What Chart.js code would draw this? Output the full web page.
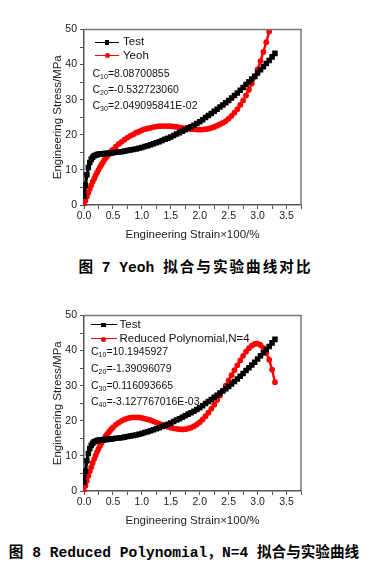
<!DOCTYPE html>
<html>
<head>
<meta charset="utf-8">
<script src="https://cdn.jsdelivr.net/npm/chart.js@4.4.1/dist/chart.umd.min.js"></script>
<style>
  html, body { margin: 0; padding: 0; background: #fff; }
  #page { position: relative; width: 369px; height: 576px; overflow: hidden;
          font-family: "Liberation Sans", Arial, sans-serif; color: #111; }
  .box { position: absolute; left: 0; width: 369px; height: 250px; }
  .lbl { position: absolute; white-space: nowrap; line-height: 1; transform: translateY(-50%); }
  .leg { font-size: 11.5px; }
  .coef { font-size: 10.5px; }
  .coef sub { font-size: 7px; vertical-align: -2px; line-height: 0; }
  .line { position: absolute; height: 0; border-top: 1.5px solid; }
  .sq { position: absolute; width: 4.5px; height: 4.5px; background: #000; }
  .dot { position: absolute; width: 5px; height: 5px; border-radius: 50%; background: #f00; }
  .cap { position: absolute; left: 0; text-align: center; font-weight: bold; font-size: 14.6px;
         font-family: "Liberation Mono", "Noto Sans CJK SC", monospace; line-height: 1;
         transform: translateY(-50%); color: #000; white-space: nowrap; }
</style>
</head>
<body>
<div id="page">
  <div class="box" style="top:0"><canvas id="c1" width="369" height="250"></canvas></div>
  <div class="box" style="top:286px"><canvas id="c2" width="369" height="250"></canvas></div>

  <!-- chart 1 legend + coefficients -->
  <div class="line" style="left:95px;width:24px;top:41.5px;border-color:#000"></div>
  <div class="sq" style="left:104.8px;top:40px"></div>
  <div class="lbl leg" style="left:123px;top:42.3px">Test</div>
  <div class="line" style="left:95px;width:24px;top:55px;border-color:#f00"></div>
  <div class="dot" style="left:104.5px;top:53.2px"></div>
  <div class="lbl leg" style="left:123px;top:55.7px">Yeoh</div>
  <div class="lbl coef" style="left:92.5px;top:73px">C<sub>10</sub>=8.08700855</div>
  <div class="lbl coef" style="left:92.5px;top:89px">C<sub>20</sub>=-0.532723060</div>
  <div class="lbl coef" style="left:92.5px;top:104.5px">C<sub>30</sub>=2.049095841E-02</div>
  <div class="cap" style="top:268.3px;width:391px">图 7 Yeoh <span style="letter-spacing:2px">拟合与实验曲线对比</span></div>

  <!-- chart 2 legend + coefficients -->
  <div class="line" style="left:90.5px;width:26px;top:324.3px;border-color:#000"></div>
  <div class="sq" style="left:101.3px;top:322.8px"></div>
  <div class="lbl leg" style="left:119.5px;top:325px">Test</div>
  <div class="line" style="left:90.5px;width:26px;top:338.3px;border-color:#f00"></div>
  <div class="dot" style="left:101px;top:336.5px"></div>
  <div class="lbl leg" style="left:119.5px;top:339px">Reduced Polynomial,N=4</div>
  <div class="lbl coef" style="left:91px;top:351px">C<sub>10</sub>=10.1945927</div>
  <div class="lbl coef" style="left:91px;top:368px">C<sub>20</sub>=-1.39096079</div>
  <div class="lbl coef" style="left:91px;top:385px">C<sub>30</sub>=0.116093665</div>
  <div class="lbl coef" style="left:91px;top:401px">C<sub>40</sub>=-3.127767016E-03</div>
  <div class="cap" style="top:553.3px;width:368px">图 8 Reduced Polynomial，N=4 拟合与实验曲线</div>
</div>

<script>
// strain (x100 %), shared by all curves
const strain = [0, 0.025, 0.05, 0.075, 0.1, 0.125, 0.15, 0.175, 0.2, 0.225, 0.25,
  0.275, 0.3, 0.325, 0.35, 0.375, 0.4, 0.425, 0.45, 0.475, 0.5,
  0.55, 0.6, 0.65, 0.7, 0.75, 0.8, 0.85, 0.9, 0.95, 1.0,
  1.05, 1.1, 1.15, 1.2, 1.25, 1.3, 1.35, 1.4, 1.45, 1.5,
  1.55, 1.6, 1.65, 1.7, 1.75, 1.8, 1.85, 1.9, 1.95, 2.0,
  2.05, 2.1, 2.15, 2.2, 2.25, 2.3, 2.35, 2.4, 2.45, 2.5,
  2.55, 2.6, 2.65, 2.7, 2.75, 2.8, 2.85, 2.9, 2.95, 3.0,
  3.05, 3.1, 3.15, 3.2, 3.25, 3.3];

// test curve, MPa
const testStress = [2.5, 5.6, 8.6, 10.7, 12.1, 13.0, 13.6, 14.0, 14.2, 14.35, 14.45,
  14.5, 14.55, 14.6, 14.65, 14.7, 14.7, 14.75, 14.8, 14.85, 14.9,
  15.0, 15.1, 15.2, 15.35, 15.5, 15.65, 15.8, 15.95, 16.15, 16.4,
  16.65, 16.9, 17.15, 17.45, 17.75, 18.05, 18.35, 18.7, 19.05, 19.4,
  19.8, 20.2, 20.6, 21.0, 21.45, 21.9, 22.3, 22.75, 23.2, 23.7,
  24.3, 24.9, 25.5, 26.1, 26.7, 27.3, 27.9, 28.5, 29.15, 29.8,
  30.5, 31.2, 31.9, 32.7, 33.5, 34.3, 35.1, 35.9, 36.7, 37.6,
  38.5, 39.4, 40.3, 41.2, 42.2, 43.2];

// Yeoh fit, MPa
const yeohStress = [0, 1.2, 2.4, 3.5, 4.6, 5.6, 6.6, 7.5, 8.4, 9.2, 10.0,
  10.8, 11.5, 12.1, 12.8, 13.4, 13.9, 14.4, 14.9, 15.4, 15.8,
  16.6, 17.4, 18.0, 18.6, 19.2, 19.7, 20.1, 20.6, 20.9, 21.3,
  21.6, 21.8, 22.0, 22.2, 22.35, 22.45, 22.5, 22.5, 22.5, 22.45,
  22.35, 22.25, 22.1, 22.0, 21.85, 21.75, 21.6, 21.55, 21.5, 21.45,
  21.5, 21.6, 21.75, 21.95, 22.25, 22.6, 23.0, 23.4, 23.9, 24.6,
  25.4, 26.3, 27.3, 28.5, 29.8, 31.2, 32.8, 34.6, 36.5, 38.6,
  41.0, 43.6, 46.4, 49.4, 52.5, 55.8];

// Reduced Polynomial N=4 fit, MPa
const polyStress = [0, 1.5, 2.9, 4.3, 5.6, 6.8, 8.0, 9.1, 10.1, 11.1, 12.0,
  12.8, 13.6, 14.3, 15.0, 15.6, 16.2, 16.7, 17.2, 17.7, 18.1,
  18.9, 19.5, 20.0, 20.4, 20.7, 20.9, 21.0, 21.0, 20.95, 20.8,
  20.6, 20.4, 20.15, 19.85, 19.5, 19.2, 18.85, 18.55, 18.3, 18.05,
  17.85, 17.7, 17.6, 17.55, 17.6, 17.8, 18.05, 18.45, 18.95, 19.6,
  20.4, 21.3, 22.3, 23.4, 24.6, 25.9, 27.2, 28.6, 30.0, 31.5,
  33.0, 34.4, 35.8, 37.2, 38.5, 39.7, 40.7, 41.4, 41.9, 42.0,
  41.6, 40.8, 39.4, 37.4, 34.6, 31.0];

const xTickValues = [0, 0.5, 1, 1.5, 2, 2.5, 3, 3.5];
const xTickLabels = ['0.0', '0.5', '1.0', '1.5', '2.0', '2.5', '3.0', '3.5'];
const yTickValues = [0, 10, 20, 30, 40, 50];
const yTickLabels = ['0', '10', '20', '30', '40', '50'];

const FONT = '"Liberation Sans", Arial, sans-serif';

function lookup(vals, labels, v) {
    const i = vals.findIndex(t => Math.abs(t - v) < 1e-6);
    return i >= 0 ? labels[i] : '';
}

const framePlugin = {
    id: 'frame',
    afterDraw(chart) {
        const { ctx, chartArea: a } = chart;
        ctx.save();
        ctx.strokeStyle = '#777';
        ctx.lineWidth = 1.5;
        ctx.beginPath();
        ctx.moveTo(a.left, a.top);
        ctx.lineTo(a.right, a.top);
        ctx.lineTo(a.right, a.bottom);
        ctx.stroke();
        ctx.restore();
    }
};

function pts(ys) {
    return strain.map((s, i) => ({ x: s, y: ys[i] }));
}

function makeChart(canvas, fitLabel, fitValues) {
    const axisGrid = { drawOnChartArea: false, drawTicks: true, tickLength: 4, tickColor: '#555', tickWidth: 1 };
    const axisBorder = { display: true, color: '#555', width: 1.5 };

    return new Chart(canvas, {
        type: 'line',
        data: {
            datasets: [
                {
                    label: 'Test',
                    data: pts(testStress),
                    borderColor: '#000',
                    backgroundColor: '#000',
                    borderWidth: 3.2,
                    pointStyle: 'rect',
                    pointRadius: 3.9,
                    pointBorderWidth: 0,
                    clip: { left: 1, right: 6, top: 0, bottom: 1 }
                },
                {
                    label: fitLabel,
                    data: pts(fitValues),
                    borderColor: '#f00',
                    backgroundColor: '#f00',
                    borderWidth: 2.4,
                    pointStyle: 'circle',
                    pointRadius: 2.9,
                    pointBorderWidth: 0,
                    clip: { left: 1, right: 6, top: 0, bottom: 1 }
                }
            ]
        },
        options: {
            responsive: false,
            animation: false,
            devicePixelRatio: 1,
            layout: { padding: { left: 0, top: 29.5, right: 68, bottom: 0 } },
            plugins: {
                legend: { display: false },
                tooltip: { enabled: false }
            },
            scales: {
                x: {
                    type: 'linear',
                    min: 0,
                    max: 3.75,
                    afterFit: s => { s.height = 45; },
                    ticks: {
                        stepSize: 0.25,
                        autoSkip: false,
                        maxRotation: 0,
                        padding: 1,
                        color: '#222',
                        font: { size: 10.5, family: FONT },
                        callback: v => lookup(xTickValues, xTickLabels, v)
                    },
                    grid: axisGrid,
                    border: axisBorder,
                    title: {
                        display: true,
                        text: 'Engineering Strain×100/%',
                        color: '#222',
                        font: { size: 11.5, family: FONT },
                        padding: { top: 0, bottom: 8.1 }
                    }
                },
                y: {
                    type: 'linear',
                    min: 0,
                    max: 50,
                    afterFit: s => { s.width = 84; },
                    ticks: {
                        stepSize: 5,
                        autoSkip: false,
                        padding: 3,
                        color: '#222',
                        font: { size: 10.5, family: FONT },
                        callback: v => lookup(yTickValues, yTickLabels, v)
                    },
                    grid: axisGrid,
                    border: axisBorder,
                    title: {
                        display: true,
                        text: 'Engineering Stress/MPa',
                        color: '#222',
                        font: { size: 11.5, family: FONT },
                        padding: { top: 51.1, bottom: 0 }
                    }
                }
            }
        },
        plugins: [framePlugin]
    });
}

makeChart(document.getElementById('c1'), 'Yeoh', yeohStress);
makeChart(document.getElementById('c2'), 'Reduced Polynomial,N=4', polyStress);
</script>
</body>
</html>
